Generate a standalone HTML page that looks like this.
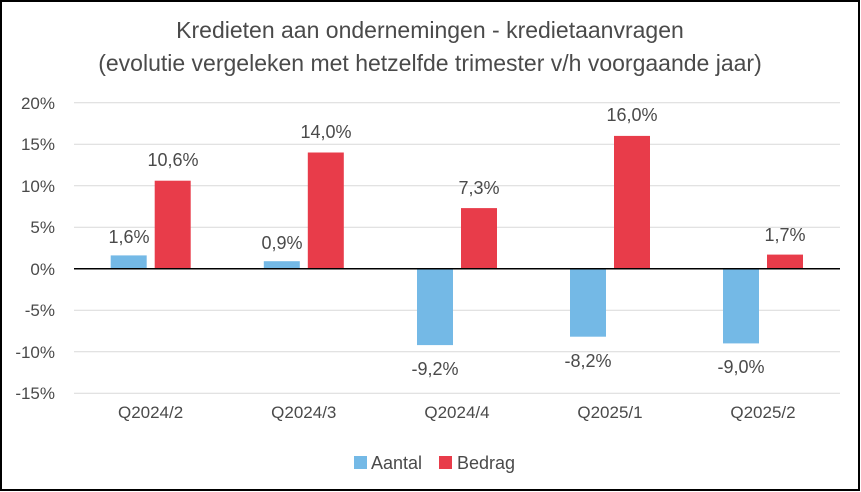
<!DOCTYPE html>
<html><head><meta charset="utf-8"><style>
html,body{margin:0;padding:0;background:#fff}
svg{display:block}
text{font-family:"Liberation Sans",sans-serif;fill:#4a4a4a}
</style></head><body>
<svg width="861" height="492" viewBox="0 0 861 492" xmlns="http://www.w3.org/2000/svg">
<rect x="1" y="1" width="858" height="489" fill="#fff" stroke="#000" stroke-width="2"/>
<text x="430" y="38" font-size="23" text-anchor="middle">Kredieten aan ondernemingen - kredietaanvragen</text>
<text x="430" y="71" font-size="23" text-anchor="middle">(evolutie vergeleken met hetzelfde trimester v/h voorgaande jaar)</text>
<g stroke="#d9d9d9" stroke-width="1">
<line x1="74" x2="840" y1="102.7" y2="102.7"/>
<line x1="74" x2="840" y1="144.2" y2="144.2"/>
<line x1="74" x2="840" y1="185.7" y2="185.7"/>
<line x1="74" x2="840" y1="227.2" y2="227.2"/>
<line x1="74" x2="840" y1="310.2" y2="310.2"/>
<line x1="74" x2="840" y1="351.7" y2="351.7"/>
<line x1="74" x2="840" y1="393.2" y2="393.2"/>
</g>
<g font-size="17" text-anchor="end">
<text x="55" y="109">20%</text>
<text x="55" y="150">15%</text>
<text x="55" y="192">10%</text>
<text x="55" y="233">5%</text>
<text x="55" y="275">0%</text>
<text x="55" y="316">-5%</text>
<text x="55" y="358">-10%</text>
<text x="55" y="399">-15%</text>
</g>
<g fill="#74b9e6">
<rect x="110.7" y="255.4" width="36" height="13.3"/>
<rect x="263.8" y="261.2" width="36" height="7.5"/>
<rect x="417" y="268.7" width="36" height="76.4"/>
<rect x="570" y="268.7" width="36" height="68"/>
<rect x="723" y="268.7" width="36" height="74.7"/>
</g>
<g fill="#e83c4a">
<rect x="154.7" y="180.7" width="36" height="88"/>
<rect x="307.8" y="152.5" width="36" height="116.2"/>
<rect x="461" y="208.1" width="36" height="60.6"/>
<rect x="614" y="135.9" width="36" height="132.8"/>
<rect x="767" y="254.6" width="36" height="14.1"/>
</g>
<line x1="74" x2="840" y1="268.7" y2="268.7" stroke="#000" stroke-width="1.5"/>
<g font-size="18" text-anchor="middle">
<text x="129" y="243">1,6%</text>
<text x="173" y="166">10,6%</text>
<text x="282" y="249">0,9%</text>
<text x="326" y="138">14,0%</text>
<text x="479" y="194">7,3%</text>
<text x="632" y="121">16,0%</text>
<text x="785" y="241">1,7%</text>
<text x="435" y="375">-9,2%</text>
<text x="588" y="367">-8,2%</text>
<text x="741" y="373">-9,0%</text>
</g>
<g font-size="17" text-anchor="middle">
<text x="150.6" y="418">Q2024/2</text>
<text x="303.8" y="418">Q2024/3</text>
<text x="457" y="418">Q2024/4</text>
<text x="610" y="418">Q2025/1</text>
<text x="763" y="418">Q2025/2</text>
</g>
<rect x="354" y="456" width="13" height="13" fill="#74b9e6"/>
<text x="371" y="469" font-size="18">Aantal</text>
<rect x="439" y="456" width="13" height="13" fill="#e83c4a"/>
<text x="457" y="469" font-size="18">Bedrag</text>
</svg>
</body></html>
